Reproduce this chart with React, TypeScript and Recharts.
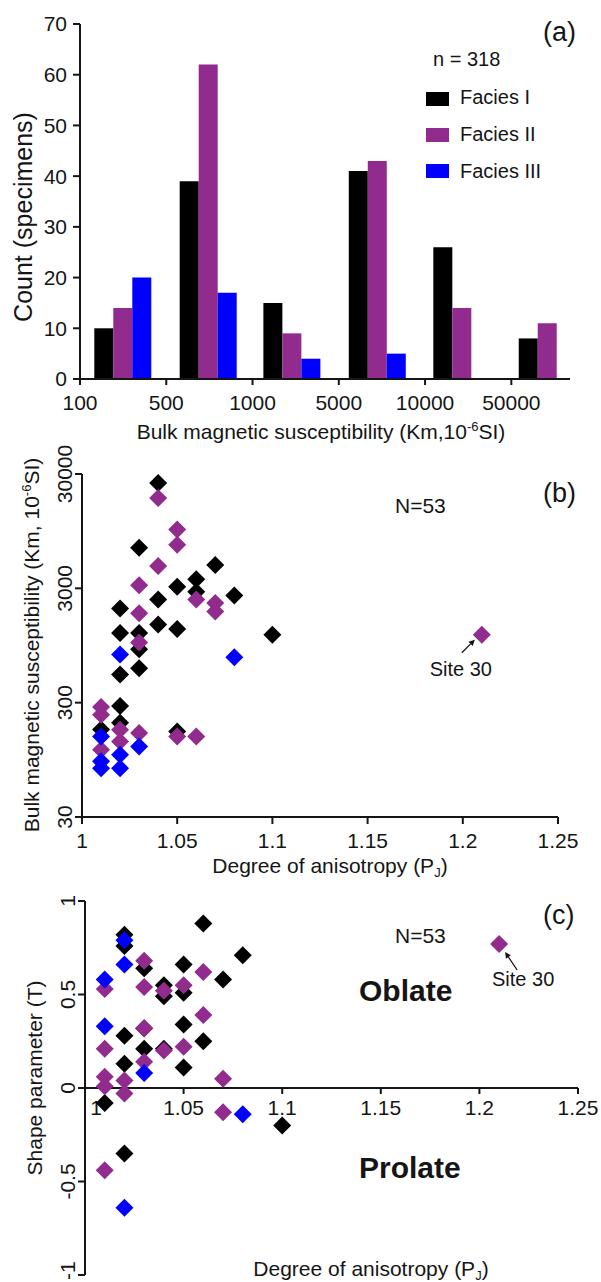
import React from 'react';
import {
  ComposedChart, Bar, XAxis, YAxis, ReferenceLine, Legend, Customized,
  ScatterChart, Scatter, ReferenceDot,
} from 'recharts';

const FONT = '"Liberation Sans", Arial, Helvetica, sans-serif';
const INK = '#151515';
const C1 = '#000000';
const C2 = '#922B8E';
const C3 = '#0000FF';

// ---------- Panel (a) histogram ----------
const bins = ['100-500', '500-1000', '1000-5000', '5000-10000', '10000-50000', '>50000'];
const binEdgeLabels = ['100', '500', '1000', '5000', '10000', '50000'];
const binEdgeTicks = [0, 1, 2, 3, 4, 5];
// bar-group centres, in bin-edge units
const binCenters = [0.5, 1.49, 2.46, 3.45, 4.43, 5.42];
const countFaciesI = [10, 39, 15, 41, 26, 8];
const countFaciesII = [14, 62, 9, 43, 14, 11];
const countFaciesIII = [20, 17, 4, 5, 0, 0];
const countTicks = [0, 10, 20, 30, 40, 50, 60, 70];
const seriesNames = ['Facies I', 'Facies II', 'Facies III'];

// ---------- Panel (b) [PJ, Km] ----------
const kmFaciesI = [
  [1.04, 25000], [1.03, 6800], [1.07, 4800], [1.06, 3600], [1.05, 3100], [1.06, 2800],
  [1.08, 2600], [1.04, 2400], [1.02, 2000], [1.04, 1450], [1.05, 1320], [1.02, 1220],
  [1.03, 1220], [1.1, 1180], [1.03, 880], [1.03, 600], [1.02, 530], [1.02, 280],
  [1.02, 200], [1.01, 175], [1.05, 168],
];
const kmFaciesII = [
  [1.04, 18500], [1.05, 9800], [1.05, 7200], [1.04, 4700], [1.03, 3200], [1.06, 2400],
  [1.07, 2230], [1.07, 1880], [1.03, 1820], [1.03, 1010], [1.01, 275], [1.01, 235],
  [1.02, 174], [1.03, 163], [1.05, 152], [1.06, 152], [1.02, 137], [1.01, 116],
  [1.21, 1180],
];
const kmFaciesIII = [
  [1.02, 790], [1.08, 750], [1.01, 152], [1.03, 124], [1.02, 105], [1.01, 92],
  [1.02, 80], [1.01, 80],
];
const pjTicks = [1, 1.05, 1.1, 1.15, 1.2, 1.25];
const kmTicks = [30, 300, 3000, 30000];

// ---------- Panel (c) [PJ, T] ----------
const tFaciesI = [
  [1.06, 0.88], [1.02, 0.82], [1.02, 0.76], [1.08, 0.71], [1.05, 0.66], [1.03, 0.64],
  [1.07, 0.58], [1.04, 0.55], [1.05, 0.51], [1.04, 0.49], [1.05, 0.34], [1.03, 0.32],
  [1.02, 0.28], [1.06, 0.25], [1.03, 0.21], [1.04, 0.21], [1.02, 0.13], [1.05, 0.11],
  [1.01, -0.08], [1.1, -0.2], [1.02, -0.35],
];
const tFaciesII = [
  [1.03, 0.68], [1.06, 0.62], [1.05, 0.55], [1.03, 0.54], [1.01, 0.53], [1.04, 0.52],
  [1.06, 0.39], [1.03, 0.32], [1.05, 0.22], [1.01, 0.21], [1.04, 0.2], [1.03, 0.14],
  [1.01, 0.06], [1.07, 0.05], [1.02, 0.04], [1.01, 0.01], [1.02, -0.03], [1.07, -0.13],
  [1.01, -0.44], [1.21, 0.77],
];
const tFaciesIII = [
  [1.02, 0.79], [1.02, 0.66], [1.01, 0.58], [1.01, 0.33], [1.03, 0.08], [1.08, -0.14],
  [1.02, -0.64],
];
const tTicks = [-1, -0.5, 0, 0.5, 1];

const toPts = (arr: number[][]) => arr.map(([x, y]) => ({ x, y }));
const site30B = kmFaciesII[kmFaciesII.length - 1];
const site30C = tFaciesII[tFaciesII.length - 1];

const dataA = bins.map((b, i) => ({
  bin: b, pos: binCenters[i], f1: countFaciesI[i], f2: countFaciesII[i], f3: countFaciesIII[i],
}));

const txt = { fontFamily: FONT, fill: INK } as const;

const Diamond = (color: string) => (props: any) => {
  const { cx, cy } = props;
  if (cx == null || cy == null) return <g />;
  const h = 9;
  return (
    <polygon
      points={`${cx},${cy - h} ${cx + h},${cy} ${cx},${cy + h} ${cx - h},${cy}`}
      fill={color}
    />
  );
};

const RotTick = (props: any) => {
  const { x, y, payload, bottomValue } = props;
  const atBottom = bottomValue !== undefined && payload.value === bottomValue;
  return (
    <text
      x={x} y={atBottom ? y + 5 : y} transform={`rotate(-90, ${x}, ${atBottom ? y + 5 : y})`}
      textAnchor={atBottom ? 'start' : 'middle'} fontSize={21} {...txt}
    >
      {String(payload.value)}
    </text>
  );
};

const Arrow = ({ x1, y1, x2, y2 }: { x1: number; y1: number; x2: number; y2: number }) => {
  const dx = x2 - x1, dy = y2 - y1;
  const L = Math.sqrt(dx * dx + dy * dy);
  const ux = dx / L, uy = dy / L;
  const hl = 6, hw = 3;
  const bx = x2 - ux * hl, by = y2 - uy * hl;
  return (
    <g>
      <line x1={x1} y1={y1} x2={bx} y2={by} stroke={INK} strokeWidth={1.3} />
      <polygon
        points={`${x2},${y2} ${bx - uy * hw},${by + ux * hw} ${bx + uy * hw},${by - ux * hw}`}
        fill={INK}
      />
    </g>
  );
};

const LegendA = (props: any) => {
  const payload = props.payload || [];
  return (
    <svg width={180} height={150} style={{ display: 'block' }}>
      <text x={13} y={26} fontSize={20} {...txt}>n = 318</text>
      {payload.map((p: any, i: number) => (
        <g key={i}>
          <rect x={6} y={52 + i * 36} width={23} height={14} fill={p.color} />
          <text x={40} y={64 + i * 37} fontSize={20} {...txt}>{p.value}</text>
        </g>
      ))}
    </svg>
  );
};

const AnnotA = () => (
  <g>
    <text x={32} y={217} transform="rotate(-90, 32, 217)" textAnchor="middle" fontSize={25} {...txt}>
      Count (specimens)
    </text>
    <text x={321} y={439} textAnchor="middle" fontSize={21} {...txt}>
      Bulk magnetic susceptibility (Km,10<tspan dy={-8} fontSize={13}>-6</tspan>
      <tspan dy={8}>SI)</tspan>
    </text>
    <text x={543} y={41} fontSize={27} {...txt}>(a)</text>
  </g>
);

const AnnotB = () => (
  <g>
    <text x={39} y={225} transform="rotate(-90, 39, 225)" textAnchor="middle" fontSize={21} {...txt}>
      Bulk magnetic susceptibility (Km, 10<tspan dy={-8} fontSize={13}>-6</tspan>
      <tspan dy={8}>SI)</tspan>
    </text>
    <text x={330} y={453} textAnchor="middle" fontSize={21} {...txt}>
      Degree of anisotropy (P<tspan dy={4} fontSize={13}>J</tspan><tspan dy={-4}>)</tspan>
    </text>
    <text x={395} y={93} fontSize={21} {...txt}>N=53</text>
    <text x={543} y={82} fontSize={27} {...txt}>(b)</text>
  </g>
);

const AnnotC = () => (
  <g>
    <text x={42} y={198} transform="rotate(-90, 42, 198)" textAnchor="middle" fontSize={21} {...txt}>
      Shape parameter (T)
    </text>
    <text x={371} y={396} textAnchor="middle" fontSize={21} {...txt}>
      Degree of anisotropy (P<tspan dy={4} fontSize={13}>J</tspan><tspan dy={-4}>)</tspan>
    </text>
    <text x={395} y={63} fontSize={21} {...txt}>N=53</text>
    <text x={543} y={44} fontSize={27} {...txt}>(c)</text>
    <text x={359} y={121} fontSize={30} fontWeight="bold" {...txt}>Oblate</text>
    <text x={359} y={298} fontSize={30} fontWeight="bold" {...txt}>Prolate</text>
  </g>
);

const SiteB = (props: any) => {
  const { cx, cy } = props;
  return (
    <g>
      <Arrow x1={cx - 20} y1={cy + 18} x2={cx - 7} y2={cy + 5} />
      <text x={cx - 21} y={cy + 41} textAnchor="middle" fontSize={20} {...txt}>Site 30</text>
    </g>
  );
};

const SiteC = (props: any) => {
  const { cx, cy } = props;
  return (
    <g>
      <Arrow x1={cx + 18} y1={cy + 26} x2={cx + 6} y2={cy + 8} />
      <text x={cx + 24} y={cy + 42} textAnchor="middle" fontSize={20} {...txt}>Site 30</text>
    </g>
  );
};

const TickC = (label: string, shift: number, mark: boolean) => (props: any) => {
  const { cx, cy } = props;
  return (
    <g>
      {mark && <line x1={cx} y1={cy} x2={cx} y2={cy + 6} stroke={INK} strokeWidth={2} />}
      <text x={cx + shift} y={cy + 27} textAnchor="middle" fontSize={21} {...txt}>{label}</text>
    </g>
  );
};

const axisStroke = { stroke: INK, strokeWidth: 2 };
const tickStyle = { fill: INK, fontSize: 21, fontFamily: FONT };

export default function App() {
  const colors = [C1, C2, C3];
  return (
    <div style={{ position: 'absolute', left: 0, top: 0, width: 601, height: 1282, background: '#fff' }}>
      <div style={{ position: 'absolute', left: 0, top: 0 }}>
        <ComposedChart
          width={601} height={450} data={dataA}
          margin={{ top: 24, right: 31, bottom: 41, left: 20 }}
          barGap={0}
        >
          <XAxis
            type="number" dataKey="pos" domain={[0, 5.68]} allowDataOverflow
            ticks={binEdgeTicks} tickFormatter={(v: number) => binEdgeLabels[v]}
            axisLine={axisStroke} tickSize={6} tickMargin={10} height={30}
            tickLine={axisStroke} tick={tickStyle} interval={0}
          />
          <YAxis
            domain={[0, 70]} ticks={countTicks} width={60} tickSize={7} tickMargin={6}
            axisLine={axisStroke} tickLine={axisStroke} tick={tickStyle} interval={0}
          />
          {['f1', 'f2', 'f3'].map((k, i) => (
            <Bar
              key={k} dataKey={k} name={seriesNames[i]} fill={colors[i]}
              barSize={19} isAnimationActive={false}
            />
          ))}
          <Legend
            layout="vertical" align="center" verticalAlign="middle"
            content={LegendA} wrapperStyle={{ left: 420, top: 40, width: 180 }}
          />
          <Customized component={AnnotA} />
        </ComposedChart>
      </div>

      <div style={{ position: 'absolute', left: 0, top: 420 }}>
        <ScatterChart width={601} height={460} margin={{ top: 54, right: 43, bottom: 23, left: 22 }}>
          <XAxis
            type="number" dataKey="x" domain={[1, 1.25]} ticks={pjTicks} allowDataOverflow
            tickFormatter={(v: number) => String(v)} height={40} tickSize={7} tickMargin={9}
            axisLine={axisStroke} tickLine={axisStroke} tick={tickStyle} interval={0}
          />
          <YAxis
            type="number" dataKey="y" scale="log" domain={[30, 30000]} ticks={kmTicks} allowDataOverflow
            width={60} tickSize={7} tickMargin={3}
            axisLine={axisStroke} tickLine={axisStroke} tick={<RotTick />} interval={0}
          />
          <Scatter data={toPts(kmFaciesI)} fill={C1} shape={Diamond(C1)} isAnimationActive={false} />
          <Scatter data={toPts(kmFaciesII)} fill={C2} shape={Diamond(C2)} isAnimationActive={false} />
          <Scatter data={toPts(kmFaciesIII)} fill={C3} shape={Diamond(C3)} isAnimationActive={false} />
          <ReferenceDot x={site30B[0]} y={site30B[1]} shape={SiteB} ifOverflow="visible" />
          <Customized component={AnnotB} />
        </ScatterChart>
      </div>

      <div style={{ position: 'absolute', left: 0, top: 880 }}>
        <ScatterChart width={601} height={402} margin={{ top: 21, right: 23, bottom: 7, left: 25 }}>
          <XAxis type="number" dataKey="x" domain={[1, 1.25]} allowDataOverflow hide />
          <YAxis
            type="number" dataKey="y" domain={[-1, 1]} ticks={tTicks} allowDataOverflow
            width={60} tickSize={7} tickMargin={3}
            axisLine={axisStroke} tickLine={axisStroke} tick={<RotTick bottomValue={-1} />} interval={0}
          />
          <ReferenceLine
            segment={[{ x: 1, y: 0 }, { x: 1.25, y: 0 }]}
            stroke={INK} strokeWidth={2} ifOverflow="visible"
          />
          {pjTicks.map((t, i) => (
            <ReferenceDot
              key={t} x={t} y={0} ifOverflow="visible"
              shape={TickC(String(t), i === 0 ? 11 : 0, i !== 0)}
            />
          ))}
          <Scatter data={toPts(tFaciesI)} fill={C1} shape={Diamond(C1)} isAnimationActive={false} />
          <Scatter data={toPts(tFaciesII)} fill={C2} shape={Diamond(C2)} isAnimationActive={false} />
          <Scatter data={toPts(tFaciesIII)} fill={C3} shape={Diamond(C3)} isAnimationActive={false} />
          <ReferenceDot x={site30C[0]} y={site30C[1]} shape={SiteC} ifOverflow="visible" />
          <Customized component={AnnotC} />
        </ScatterChart>
      </div>
    </div>
  );
}
